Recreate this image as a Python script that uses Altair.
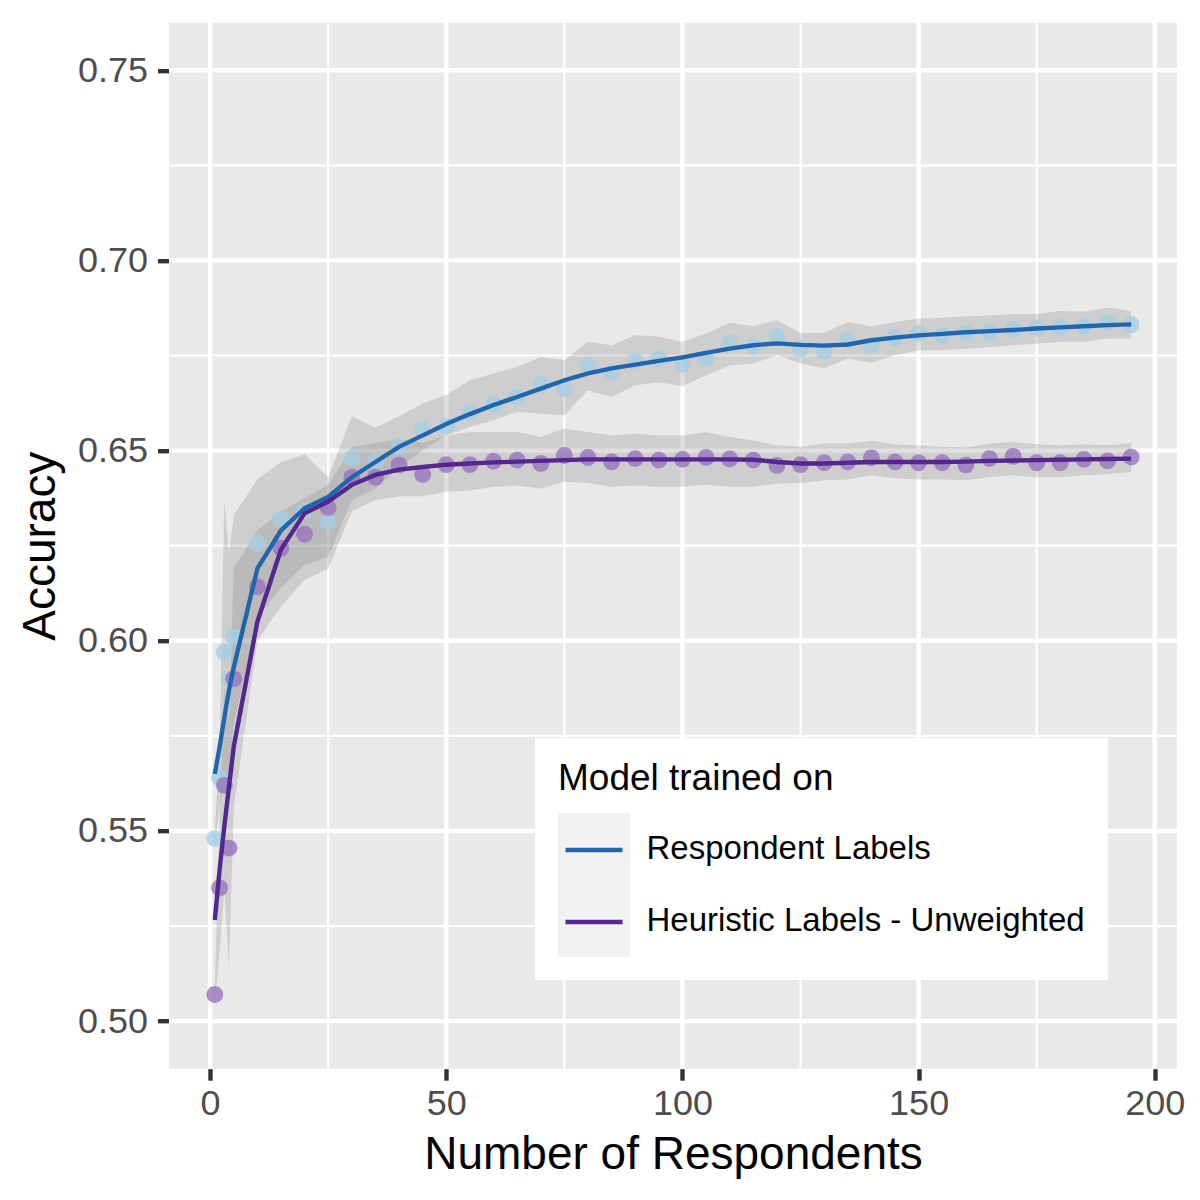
import altair as alt
import pandas as pd

groups = ["Respondent Labels", "Heuristic Labels - Unweighted"]

n_resp = [1, 2, 3, 4, 5, 10, 15, 20, 25, 30, 35, 40, 45, 50, 55, 60, 65, 70, 75, 80,
          85, 90, 95, 100, 105, 110, 115, 120, 125, 130, 135, 140, 145, 150, 155, 160,
          165, 170, 175, 180, 185, 190, 195]

resp_pts = [0.548, 0.564, 0.597, 0.590, 0.601,
            0.6255, 0.632, 0.634, 0.6313, 0.648, 0.647, 0.651, 0.6555,
            0.6564, 0.660, 0.6622, 0.6641, 0.6675, 0.6663, 0.6725, 0.6705, 0.6736, 0.6742,
            0.6726, 0.6742, 0.6783, 0.6774, 0.6799, 0.6767, 0.6761, 0.679, 0.6777, 0.6796,
            0.6809, 0.6803, 0.6809, 0.6812, 0.6818, 0.6821, 0.6825, 0.6827, 0.6836, 0.6831]
heur_pts = [0.507, 0.535, 0.562, 0.5455, 0.590,
            0.6142, 0.6243, 0.628, 0.635, 0.643, 0.643, 0.6462, 0.6437,
            0.6463, 0.6463, 0.6472, 0.6475, 0.6466, 0.6487, 0.6482, 0.647, 0.6479, 0.6475,
            0.6477, 0.6482, 0.6478, 0.6475, 0.6461, 0.6463, 0.6468, 0.647, 0.6481, 0.647,
            0.6468, 0.6468, 0.6462, 0.6479, 0.6485, 0.6468, 0.6468, 0.6477, 0.6473, 0.6483]

resp_fit = [0.565, 0.572, 0.5797, 0.587, 0.593,
            0.619, 0.629, 0.6348, 0.6378, 0.643, 0.647, 0.651, 0.654,
            0.657, 0.6596, 0.662, 0.6641, 0.6663, 0.6685, 0.6703, 0.6716, 0.6726, 0.6736,
            0.6745, 0.6757, 0.6768, 0.6777, 0.6782, 0.6778, 0.6776, 0.6779, 0.679, 0.6797,
            0.6803, 0.6807, 0.6811, 0.6814, 0.6817, 0.6821, 0.6824, 0.6827, 0.683, 0.6832]
heur_fit = [0.5266, 0.5397, 0.5511, 0.5616, 0.5721,
            0.605, 0.624, 0.6335, 0.6366, 0.641, 0.6436, 0.645, 0.6457,
            0.6463, 0.6466, 0.6469, 0.6471, 0.6473, 0.6475, 0.6477, 0.6477, 0.6477, 0.6477,
            0.6477, 0.6477, 0.6477, 0.6476, 0.647, 0.6466, 0.6466, 0.6468, 0.647, 0.647,
            0.647, 0.647, 0.6471, 0.6473, 0.6474, 0.6475, 0.6476, 0.6477, 0.6478, 0.6479]

resp_lo = [0.546, 0.556, 0.565, 0.562, 0.578,
           0.606, 0.614, 0.620, 0.622, 0.637, 0.640, 0.6455, 0.650,
           0.654, 0.6562, 0.658, 0.6602, 0.6597, 0.6593, 0.6659, 0.6641, 0.6672, 0.668,
           0.6669, 0.6698, 0.6724, 0.6729, 0.6751, 0.6729, 0.6716, 0.6742, 0.6731, 0.6751,
           0.6764, 0.6764, 0.6768, 0.6772, 0.6777, 0.6781, 0.6786, 0.6786, 0.6795, 0.6795]
resp_hi = [0.550, 0.572, 0.637, 0.623, 0.633,
           0.6425, 0.647, 0.649, 0.643, 0.659, 0.656, 0.659, 0.6624,
           0.6646, 0.6685, 0.6703, 0.672, 0.6746, 0.6738, 0.6786, 0.6777, 0.6803, 0.680,
           0.6786, 0.6808, 0.6836, 0.6827, 0.6843, 0.6809, 0.6809, 0.6838, 0.6827, 0.6838,
           0.6847, 0.6849, 0.6853, 0.6855, 0.6859, 0.6859, 0.6867, 0.6865, 0.6876, 0.6867]
heur_lo = [0.505, 0.518, 0.535, 0.514, 0.556,
           0.600, 0.609, 0.616, 0.619, 0.634, 0.637, 0.638, 0.638,
           0.6392, 0.6395, 0.6405, 0.6408, 0.640, 0.6418, 0.6415, 0.6405, 0.6408, 0.6405,
           0.6405, 0.641, 0.6405, 0.6405, 0.6413, 0.6415, 0.6422, 0.6424, 0.6435, 0.6427,
           0.6424, 0.6424, 0.6422, 0.643, 0.6435, 0.643, 0.643, 0.6435, 0.6438, 0.6444]
heur_hi = [0.509, 0.552, 0.588, 0.578, 0.619,
           0.629, 0.634, 0.6375, 0.641, 0.651, 0.652, 0.653, 0.652,
           0.654, 0.6549, 0.6549, 0.6549, 0.6536, 0.6558, 0.6549, 0.654, 0.6545, 0.654,
           0.654, 0.6549, 0.6536, 0.6527, 0.6514, 0.651, 0.6519, 0.6519, 0.6526, 0.6517,
           0.6514, 0.651, 0.6508, 0.6519, 0.6523, 0.6517, 0.6514, 0.6517, 0.6514, 0.652]

x_major = [0, 50, 100, 150, 200]
x_minor = [25, 75, 125, 175]
y_major = [0.50, 0.55, 0.60, 0.65, 0.70, 0.75]
y_minor = [0.525, 0.575, 0.625, 0.675, 0.725]

line_colors = ["#2166AC", "#54278F"]
point_colors = ["#A6CEE3", "#9873BD"]
panel_color = "#E9E9E9"
key_color = "#F2F2F2"

FONT = "Liberation Sans"

n = len(n_resp)
df = pd.DataFrame({
    "n": n_resp * 2,
    "group": [groups[0]] * n + [groups[1]] * n,
    "acc": resp_pts + heur_pts,
    "fit": resp_fit + heur_fit,
    "lo": resp_lo + heur_lo,
    "hi": resp_hi + heur_hi,
})

xscale = alt.Scale(domain=[-8.7, 204.7], nice=False, zero=False)
yscale = alt.Scale(domain=[0.4875, 0.7625], nice=False, zero=False)

xaxis = alt.Axis(values=x_major, format="d", grid=False, domain=False,
                 tickColor="#333333", tickWidth=4.4, tickSize=11.5,
                 labelFont=FONT, labelFontSize=36, labelColor="#4D4D4D", labelPadding=6,
                 title="Number of Respondents", titleFont=FONT, titleFontSize=46,
                 titleColor="black", titleFontWeight="normal", titlePadding=11)
yaxis = alt.Axis(values=y_major, format=".2f", grid=False, domain=False,
                 tickColor="#333333", tickWidth=4.4, tickSize=11.5,
                 labelFont=FONT, labelFontSize=36, labelColor="#4D4D4D", labelPadding=10,
                 title="Accuracy", titleFont=FONT, titleFontSize=46,
                 titleColor="black", titleFontWeight="normal", titlePadding=13)


def X(field):
    return alt.X(field, type="quantitative", scale=xscale, axis=xaxis)


def Y(field):
    return alt.Y(field, type="quantitative", scale=yscale, axis=yaxis)


panel = alt.Chart(pd.DataFrame({"p": [0]})).mark_rect(color=panel_color).encode(
    x=alt.value(0), x2=alt.value("width"), y=alt.value(0), y2=alt.value("height"))

grid_xmin = alt.Chart(pd.DataFrame({"v": x_minor})).mark_rule(
    color="white", strokeWidth=2.2).encode(x=X("v"))
grid_xmaj = alt.Chart(pd.DataFrame({"v": x_major})).mark_rule(
    color="white", strokeWidth=4.4).encode(x=X("v"))
grid_ymin = alt.Chart(pd.DataFrame({"v": y_minor})).mark_rule(
    color="white", strokeWidth=2.2).encode(y=Y("v"))
grid_ymaj = alt.Chart(pd.DataFrame({"v": y_major})).mark_rule(
    color="white", strokeWidth=4.4).encode(y=Y("v"))

base = alt.Chart(df)

ribbon = base.mark_area(color="#7F7F7F", opacity=0.25, interpolate="linear").encode(
    x=X("n"), y=Y("lo"), y2="hi", detail="group:N")

pts_resp = base.transform_filter(alt.datum.group == groups[0]).mark_circle(
    size=284, color=point_colors[0], opacity=0.8).encode(x=X("n"), y=Y("acc"))
pts_heur = base.transform_filter(alt.datum.group == groups[1]).mark_circle(
    size=284, color=point_colors[1], opacity=0.8).encode(x=X("n"), y=Y("acc"))

# coloured legend lines (drawn on top of the key squares; labels come from the box legend)
lines = base.mark_line(strokeWidth=4.4).encode(
    x=X("n"), y=Y("fit"),
    color=alt.Color("group:N", scale=alt.Scale(domain=groups, range=line_colors),
                    legend=alt.Legend(title=None, orient="none", legendX=394, legendY=796.3,
                                      padding=0, symbolType="stroke", symbolSize=3249,
                                      symbolStrokeWidth=4.4, labelFont=FONT,
                                      labelFontSize=33, labelExpr="''",
                                      labelOffset=21.5, rowPadding=24, zindex=2)))

# legend box, title, grey key squares and labels
keys = alt.Chart(pd.DataFrame({"key": groups})).mark_square(opacity=0).encode(
    fill=alt.Fill("key:N", sort=groups,
                  scale=alt.Scale(range=[key_color, key_color]),
                  legend=alt.Legend(title="Model trained on", orient="none",
                                    legendX=366, legendY=715.3, fillColor="white",
                                    padding=23, symbolType="square", symbolSize=5184,
                                    symbolStrokeWidth=0, symbolOpacity=1,
                                    labelFont=FONT, labelFontSize=33, labelColor="black",
                                    labelLimit=1000, labelOffset=16.5, rowPadding=0,
                                    titleFont=FONT, titleFontSize=37, titleLimit=1000,
                                    titleFontWeight="normal", titleColor="black",
                                    titlePadding=15, zindex=1)))

chart = alt.layer(panel, grid_xmin, grid_xmaj, grid_ymin, grid_ymaj, ribbon,
                  pts_resp, pts_heur, lines, keys).properties(
    width=1008, height=1046,
    autosize=alt.AutoSizeParams(type="none"),
    padding={"left": 161, "top": 14.7, "right": 15, "bottom": 125},
    background="white",
).resolve_scale(color="independent", fill="independent"
).configure_view(fill=panel_color, stroke=None)

chart.save("out.html", embed_options={"renderer": "svg", "actions": False})
